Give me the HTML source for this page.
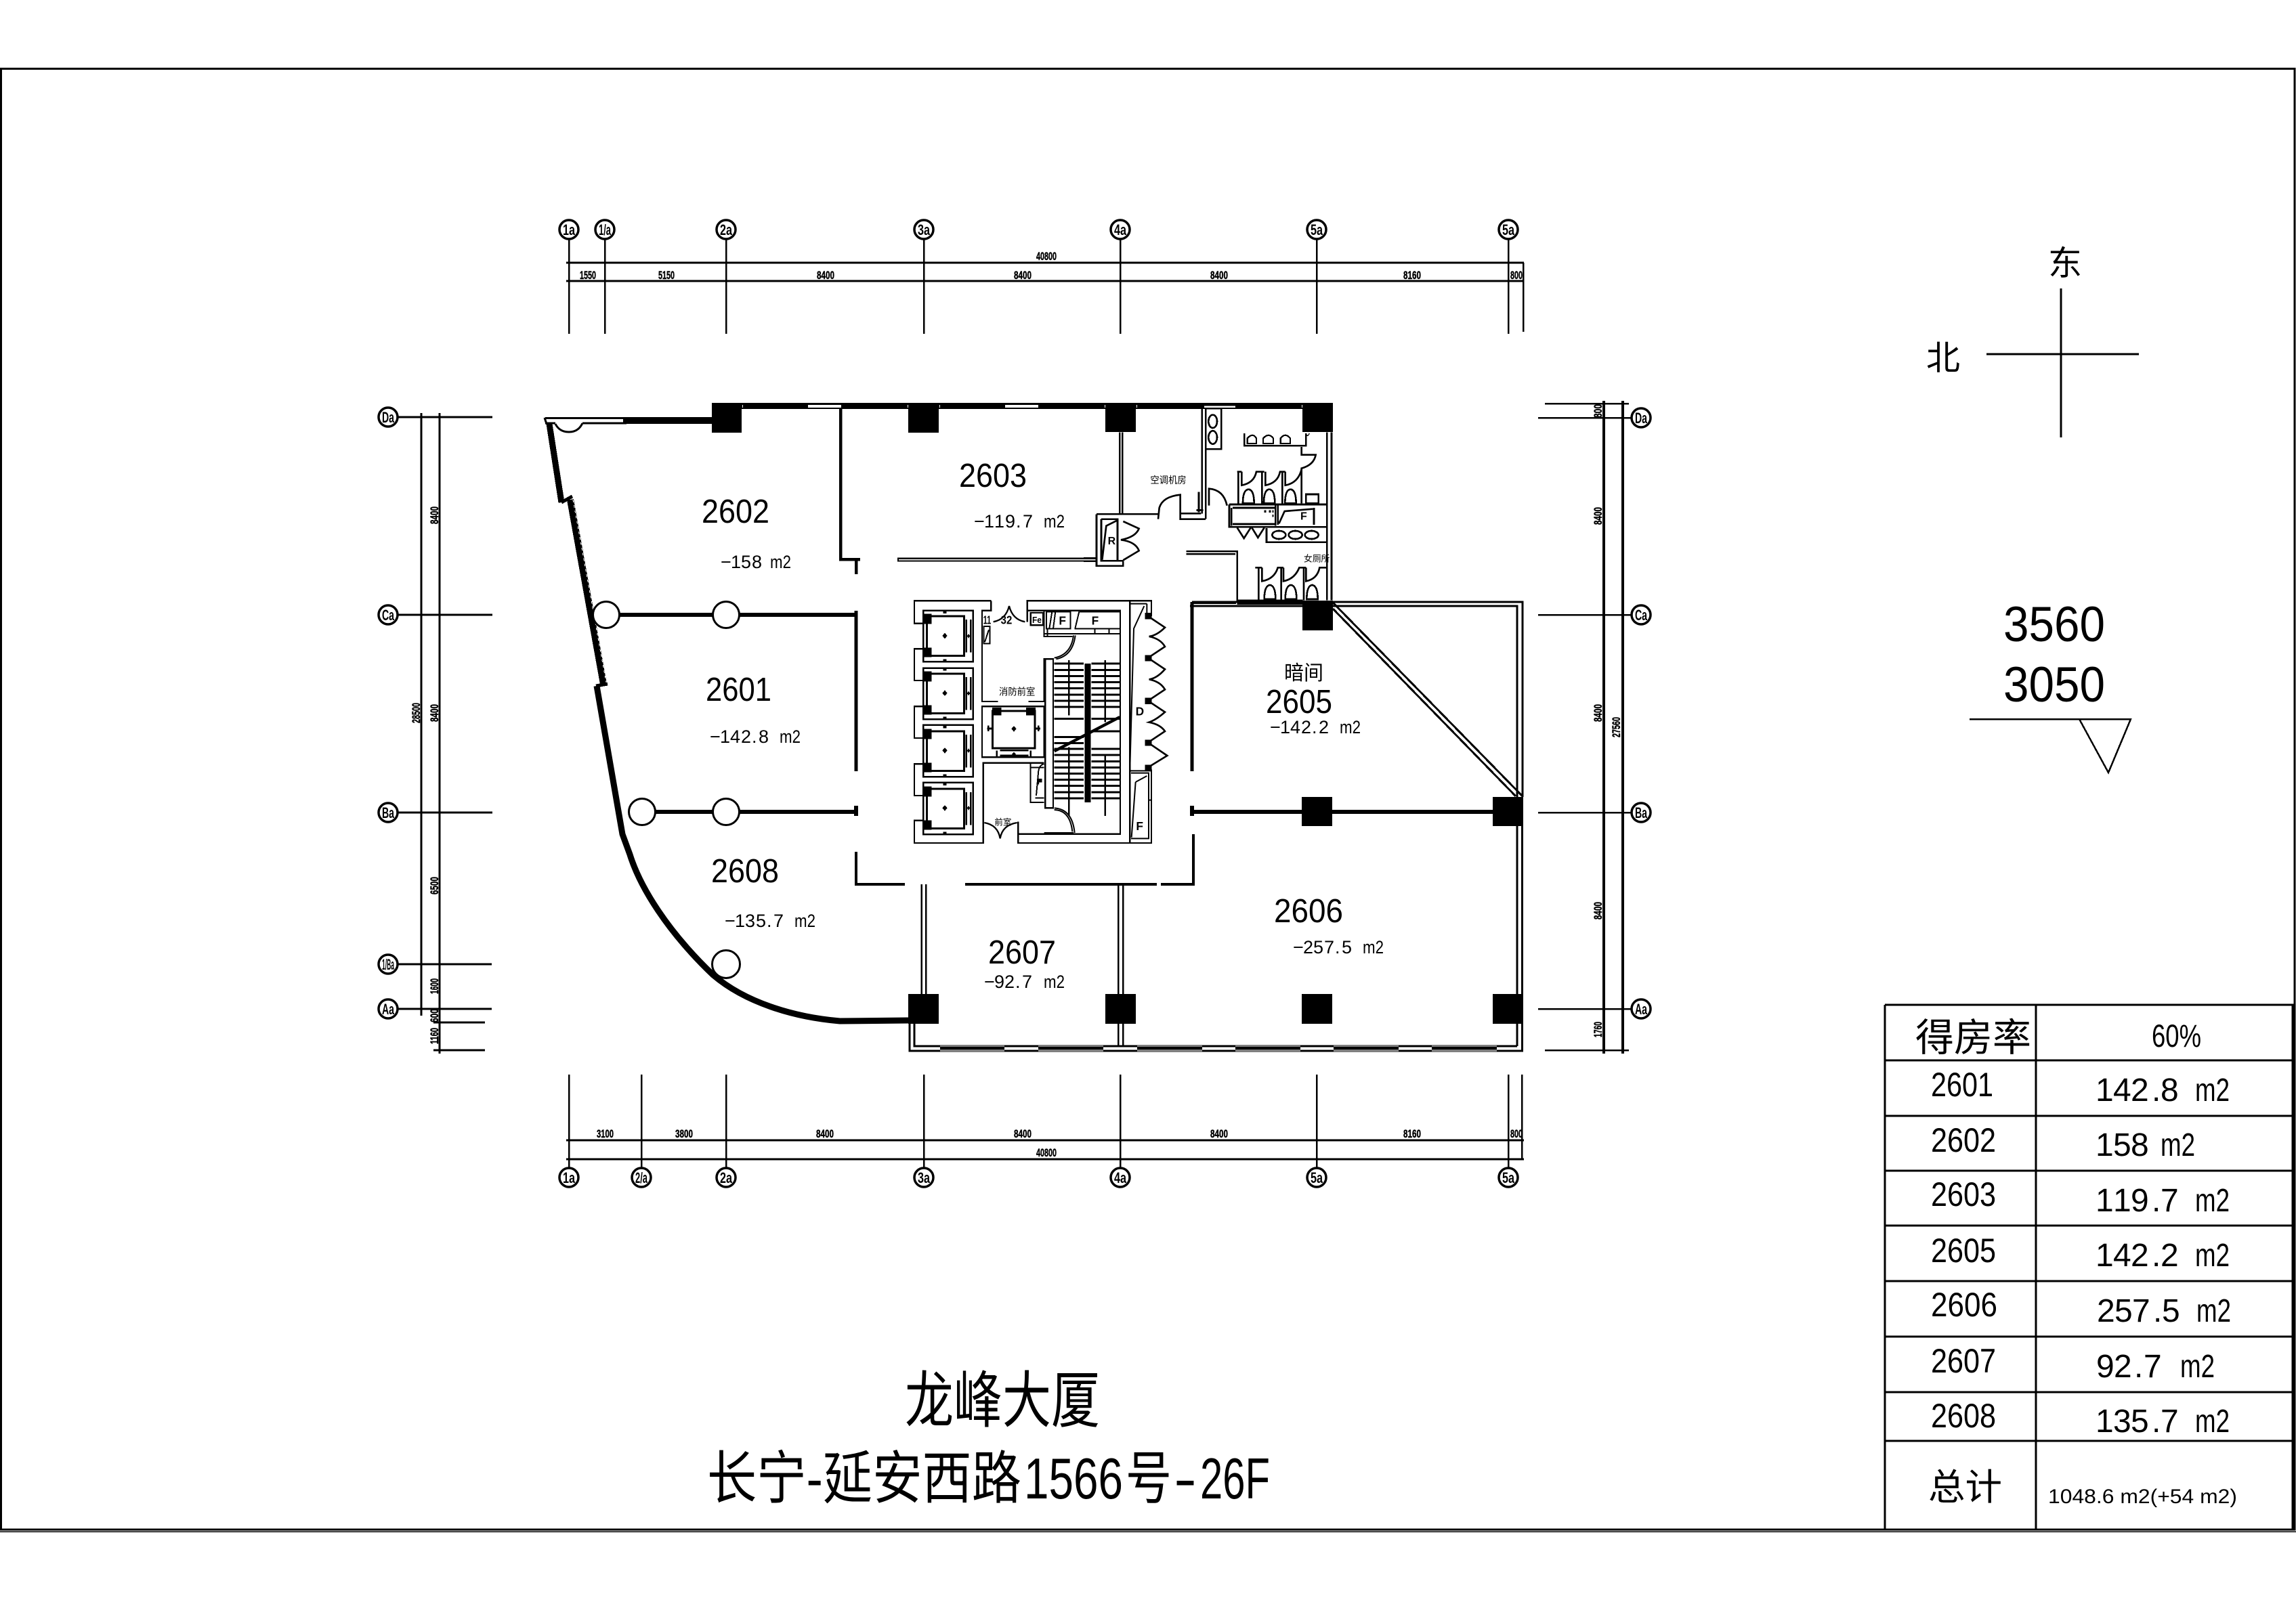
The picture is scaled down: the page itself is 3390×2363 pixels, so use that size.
<!DOCTYPE html>
<html><head><meta charset="utf-8"><title>龙峰大厦</title>
<style>
html,body{margin:0;padding:0;background:#fff;width:3390px;height:2363px;overflow:hidden}
svg{display:block}
text{font-family:"Liberation Sans","Noto Sans CJK SC",sans-serif;fill:#000;stroke:none}
.d{font-size:17px;font-weight:bold;stroke:#000;stroke-width:.5px}
.b{font-size:22px;font-weight:bold}
.r{font-size:49px}
.a{font-size:27px}
.t{font-size:50px}
.v{font-size:48px}
.m{font-weight:bold}
</style></head><body>
<svg width="3390" height="2363" viewBox="0 0 3390 2363" xmlns="http://www.w3.org/2000/svg" fill="none" stroke="#000" shape-rendering="crispEdges">
<rect width="3390" height="2363" fill="#fff" stroke="none"/>
<!-- frame -->
<path d="M1.5,101.5H3388V2259H1.5Z" stroke-width="3"/>
<path d="M0,2262H3390" stroke-width="1.5"/>

<!-- top dims -->
<g stroke-width="3">
<path d="M836,388H2250M836,415H2250"/>
<path d="M840,353V493M893,353V493M1072,353V493M1364,353V493M1654,353V493M1944,353V493M2227,353V493M2249,388V490" stroke-width="2.5"/>
<g stroke-width="3.5" shape-rendering="auto">
<circle cx="840" cy="339" r="14" fill="#fff"/><circle cx="893" cy="339" r="14" fill="#fff"/><circle cx="1072" cy="339" r="14" fill="#fff"/><circle cx="1364" cy="339" r="14" fill="#fff"/><circle cx="1654" cy="339" r="14" fill="#fff"/><circle cx="1944" cy="339" r="14" fill="#fff"/><circle cx="2227" cy="339" r="14" fill="#fff"/>
</g>
</g>
<text class="b" x="831" y="347" textLength="18" lengthAdjust="spacingAndGlyphs">1a</text>
<text class="b" x="884" y="347" textLength="18" lengthAdjust="spacingAndGlyphs">1/a</text>
<text class="b" x="1063" y="347" textLength="18" lengthAdjust="spacingAndGlyphs">2a</text>
<text class="b" x="1355" y="347" textLength="18" lengthAdjust="spacingAndGlyphs">3a</text>
<text class="b" x="1645" y="347" textLength="18" lengthAdjust="spacingAndGlyphs">4a</text>
<text class="b" x="1935" y="347" textLength="18" lengthAdjust="spacingAndGlyphs">5a</text>
<text class="b" x="2218" y="347" textLength="18" lengthAdjust="spacingAndGlyphs">5a</text>
<text class="d" x="856" y="412" textLength="24" lengthAdjust="spacingAndGlyphs">1550</text>
<text class="d" x="972" y="412" textLength="24" lengthAdjust="spacingAndGlyphs">5150</text>
<text class="d" x="1206" y="412" textLength="26" lengthAdjust="spacingAndGlyphs">8400</text>
<text class="d" x="1497" y="412" textLength="26" lengthAdjust="spacingAndGlyphs">8400</text>
<text class="d" x="1787" y="412" textLength="26" lengthAdjust="spacingAndGlyphs">8400</text>
<text class="d" x="2072" y="412" textLength="26" lengthAdjust="spacingAndGlyphs">8160</text>
<text class="d" x="2230" y="412" textLength="18" lengthAdjust="spacingAndGlyphs">800</text>
<text class="d" x="1530" y="384" textLength="30" lengthAdjust="spacingAndGlyphs">40800</text>

<!-- bottom dims -->
<g stroke-width="3">
<path d="M836,1684H2250M836,1712H2250"/>
<path d="M840,1587V1725M947,1587V1725M1072,1587V1725M1364,1587V1725M1654,1587V1725M1944,1587V1725M2227,1587V1725M2247,1587V1712" stroke-width="2.5"/>
<g stroke-width="3.5" shape-rendering="auto">
<circle cx="840" cy="1739" r="14" fill="#fff"/><circle cx="947" cy="1739" r="14" fill="#fff"/><circle cx="1072" cy="1739" r="14" fill="#fff"/><circle cx="1364" cy="1739" r="14" fill="#fff"/><circle cx="1654" cy="1739" r="14" fill="#fff"/><circle cx="1944" cy="1739" r="14" fill="#fff"/><circle cx="2227" cy="1739" r="14" fill="#fff"/>
</g>
</g>
<text class="b" x="831" y="1747" textLength="18" lengthAdjust="spacingAndGlyphs">1a</text>
<text class="b" x="938" y="1747" textLength="18" lengthAdjust="spacingAndGlyphs">2/a</text>
<text class="b" x="1063" y="1747" textLength="18" lengthAdjust="spacingAndGlyphs">2a</text>
<text class="b" x="1355" y="1747" textLength="18" lengthAdjust="spacingAndGlyphs">3a</text>
<text class="b" x="1645" y="1747" textLength="18" lengthAdjust="spacingAndGlyphs">4a</text>
<text class="b" x="1935" y="1747" textLength="18" lengthAdjust="spacingAndGlyphs">5a</text>
<text class="b" x="2218" y="1747" textLength="18" lengthAdjust="spacingAndGlyphs">5a</text>
<text class="d" x="881" y="1680" textLength="25" lengthAdjust="spacingAndGlyphs">3100</text>
<text class="d" x="997" y="1680" textLength="26" lengthAdjust="spacingAndGlyphs">3800</text>
<text class="d" x="1205" y="1680" textLength="26" lengthAdjust="spacingAndGlyphs">8400</text>
<text class="d" x="1497" y="1680" textLength="26" lengthAdjust="spacingAndGlyphs">8400</text>
<text class="d" x="1787" y="1680" textLength="26" lengthAdjust="spacingAndGlyphs">8400</text>
<text class="d" x="2072" y="1680" textLength="26" lengthAdjust="spacingAndGlyphs">8160</text>
<text class="d" x="2230" y="1680" textLength="18" lengthAdjust="spacingAndGlyphs">800</text>
<text class="d" x="1530" y="1708" textLength="30" lengthAdjust="spacingAndGlyphs">40800</text>

<!-- left dims -->
<g stroke-width="3">
<path d="M622,610V1500M649,610V1556"/>
<path d="M587,616H727M587,908H727M587,1200H727M587,1424H726M587,1490H726M640,1510H716M640,1551H716"/>
<g stroke-width="3.5" shape-rendering="auto">
<circle cx="573" cy="616" r="14" fill="#fff"/><circle cx="573" cy="908" r="14" fill="#fff"/><circle cx="573" cy="1200" r="14" fill="#fff"/><circle cx="573" cy="1424" r="14" fill="#fff"/><circle cx="573" cy="1490" r="14" fill="#fff"/>
</g>
</g>
<text class="b" x="564" y="624" textLength="18" lengthAdjust="spacingAndGlyphs">Da</text>
<text class="b" x="564" y="916" textLength="18" lengthAdjust="spacingAndGlyphs">Ca</text>
<text class="b" x="564" y="1208" textLength="18" lengthAdjust="spacingAndGlyphs">Ba</text>
<text class="b" x="564" y="1432" textLength="18" lengthAdjust="spacingAndGlyphs">1/Ba</text>
<text class="b" x="564" y="1498" textLength="18" lengthAdjust="spacingAndGlyphs">Aa</text>
<text class="d" transform="translate(647,774) rotate(-90)" textLength="26" lengthAdjust="spacingAndGlyphs">8400</text>
<text class="d" transform="translate(647,1066) rotate(-90)" textLength="26" lengthAdjust="spacingAndGlyphs">8400</text>
<text class="d" transform="translate(647,1321) rotate(-90)" textLength="26" lengthAdjust="spacingAndGlyphs">6500</text>
<text class="d" transform="translate(647,1468) rotate(-90)" textLength="23" lengthAdjust="spacingAndGlyphs">1600</text>
<text class="d" transform="translate(647,1510) rotate(-90)" textLength="20" lengthAdjust="spacingAndGlyphs">600</text>
<text class="d" transform="translate(647,1542) rotate(-90)" textLength="24" lengthAdjust="spacingAndGlyphs">1160</text>
<text class="d" transform="translate(620,1068) rotate(-90)" textLength="30" lengthAdjust="spacingAndGlyphs">28500</text>

<!-- right dims -->
<g stroke-width="3">
<path d="M2368,592V1556M2396,592V1556" stroke-width="4"/>
<path d="M2281,596H2405M2271,617H2409M2271,908H2409M2271,1200H2409M2271,1490H2409M2281,1551H2405" stroke-width="2.5"/>
<g stroke-width="3.5" shape-rendering="auto">
<circle cx="2423" cy="617" r="14" fill="#fff"/><circle cx="2423" cy="908" r="14" fill="#fff"/><circle cx="2423" cy="1200" r="14" fill="#fff"/><circle cx="2423" cy="1490" r="14" fill="#fff"/>
</g>
</g>
<text class="b" x="2414" y="625" textLength="18" lengthAdjust="spacingAndGlyphs">Da</text>
<text class="b" x="2414" y="916" textLength="18" lengthAdjust="spacingAndGlyphs">Ca</text>
<text class="b" x="2414" y="1208" textLength="18" lengthAdjust="spacingAndGlyphs">Ba</text>
<text class="b" x="2414" y="1498" textLength="18" lengthAdjust="spacingAndGlyphs">Aa</text>
<text class="d" transform="translate(2365,617) rotate(-90)" textLength="20" lengthAdjust="spacingAndGlyphs">800</text>
<text class="d" transform="translate(2365,775) rotate(-90)" textLength="26" lengthAdjust="spacingAndGlyphs">8400</text>
<text class="d" transform="translate(2365,1066) rotate(-90)" textLength="26" lengthAdjust="spacingAndGlyphs">8400</text>
<text class="d" transform="translate(2365,1358) rotate(-90)" textLength="26" lengthAdjust="spacingAndGlyphs">8400</text>
<text class="d" transform="translate(2365,1532) rotate(-90)" textLength="23" lengthAdjust="spacingAndGlyphs">1760</text>
<text class="d" transform="translate(2392,1089) rotate(-90)" textLength="30" lengthAdjust="spacingAndGlyphs">27560</text>

<!-- columns & walls -->
<g fill="#000" stroke="none">
<rect x="1051" y="595" width="917" height="9"/>
<rect x="1051" y="595" width="44" height="44"/><rect x="1341" y="595" width="45" height="44"/><rect x="1632" y="595" width="45" height="43"/><rect x="1923" y="595" width="45" height="43"/>
<rect x="1923" y="887" width="45" height="44"/>
<rect x="1922" y="1177" width="45" height="43"/><rect x="2204" y="1177" width="45" height="43"/>
<rect x="1341" y="1468" width="45" height="44"/><rect x="1632" y="1468" width="45" height="44"/><rect x="1922" y="1468" width="45" height="44"/><rect x="2204" y="1468" width="45" height="44"/>
<rect x="920" y="616" width="131" height="10"/>
</g>
<g fill="#fff" stroke="none">
<rect x="1193" y="598" width="49" height="4"/><rect x="1484" y="598" width="49" height="4"/><rect x="1778" y="598" width="46" height="4"/>
<rect x="1096" y="598" width="1" height="4"/><rect x="1340" y="598" width="1" height="4"/><rect x="1387" y="598" width="1" height="4"/><rect x="1631" y="598" width="1" height="4"/><rect x="1678" y="598" width="1" height="4"/><rect x="1922" y="598" width="1" height="4"/>
</g>
<!-- left facade -->
<path d="M805,617.5H922M805,625H820M860,625H925" stroke-width="3"/>
<path d="M804,617L807,626" stroke-width="3"/>
<path d="M820,626Q826,638 840,638Q854,638 860,625" stroke-width="3" shape-rendering="auto"/>
<path d="M811,626L829,742" stroke-width="9"/>
<path d="M829,742L845,733" stroke-width="5"/>
<path d="M842,738L891,1010" stroke-width="10"/>
<path d="M846,738L895,1008" stroke-width="1" stroke="#fff" stroke-dasharray="4 4"/>
<path d="M880,1013L897,1010" stroke-width="5"/>
<path d="M881,1013L919,1232L930,1262C945,1310 985,1375 1053,1440C1100,1480 1170,1502 1240,1508L1341,1507" stroke-width="9" shape-rendering="auto"/>
<!-- partitions -->
<path d="M1241,604V826H1270M1264,826V848" stroke-width="4.5"/>
<path d="M1325,826.5H1620" stroke-width="6"/><path d="M1327,826.5H1620" stroke-width="1.5" stroke="#fff"/>
<path d="M913,908H1053M1092,908H1264M1200,908" stroke-width="6"/>
<path d="M1264,902V1139" stroke-width="5"/>
<path d="M967,1199H1053M1092,1199H1264" stroke-width="6"/>
<path d="M1264,1190V1205" stroke-width="6"/>
<path d="M1264,1258V1306H1336M1425,1306H1708M1714,1306H1762V1232" stroke-width="4"/>
<path d="M1760,889V1139" stroke-width="5"/>
<path d="M1760,889H1968" stroke-width="3"/><path d="M1757,895H1925" stroke-width="3"/>
<path d="M1760,1190V1205" stroke-width="6"/>
<path d="M1760,1199H1922M1967,1199H2204" stroke-width="6"/>
<g shape-rendering="auto">
<circle cx="895" cy="908" r="19.5" fill="#fff" stroke-width="3"/>
<circle cx="1072" cy="908" r="19.5" fill="#fff" stroke-width="3"/>
<circle cx="948" cy="1199" r="19.5" fill="#fff" stroke-width="3"/>
<circle cx="1072" cy="1199" r="19.5" fill="#fff" stroke-width="3"/>
<circle cx="1072" cy="1424" r="20.5" fill="#fff" stroke-width="3"/>
</g>
<!-- double walls south -->
<path d="M1360.5,1306V1468M1367,1306V1468M1651,1306V1468M1658,1306V1468" stroke-width="2.5"/>
<path d="M1651,1512V1544M1658,1512V1544" stroke-width="2.5"/>
<path d="M1343,1512V1552H2249M1350,1512V1545H2240" stroke-width="2.7"/>
<g fill="#808080" stroke="none">
<rect x="1388" y="1543" width="95" height="10"/><rect x="1533" y="1543" width="96" height="10"/><rect x="1679" y="1543" width="96" height="10"/><rect x="1824" y="1543" width="96" height="10"/><rect x="1969" y="1543" width="96" height="10"/><rect x="2114" y="1543" width="96" height="10"/>
</g>
<g fill="#000" stroke="none">
<rect x="1388" y="1546" width="95" height="4"/><rect x="1533" y="1546" width="96" height="4"/><rect x="1679" y="1546" width="96" height="4"/><rect x="1824" y="1546" width="96" height="4"/><rect x="1969" y="1546" width="96" height="4"/><rect x="2114" y="1546" width="96" height="4"/>
</g>
<!-- east walls -->
<path d="M1968,889H2248V1177M1968,895H2240V1177M2240,1220V1545M2247.5,1220V1552" stroke-width="3"/>
<path d="M1968,890L2248,1176M1968,899L2238,1176" stroke-width="3"/>

<!-- toilets, plant room (zoom coords) -->
<g transform="translate(1600,570) scale(.33333)" stroke-width="8">
<path d="M160,205V568M172,205V568" stroke-width="7"/>
<path d="M57,568H330M78,590H155M57,568V797H175V775M78,590V775H175M150,590V775"/>
<path d="M175,600L245,632Q230,670 165,682Q230,690 245,730L175,772" shape-rendering="auto"/>
<path d="M150,595L100,620L82,770" shape-rendering="auto"/>
<path d="M0,762H57M0,777H57" stroke-width="5"/>
<path d="M330,590L335,540Q350,490 428,482V590H540M432,565H520" shape-rendering="auto"/>
<path d="M524,85V565M541,100V590M530,85H672M541,100H610V280H541"/>
<path d="M510,470V560M500,550H530" stroke-width="9"/>
<path d="M555,530V455Q620,460 635,530" shape-rendering="auto"/>
<ellipse cx="572" cy="157" rx="19" ry="29"/><ellipse cx="572" cy="228" rx="19" ry="29"/>
<path d="M712,210V265H985V210"/>
<path d="M725,255V232Q750,205 765,232V255ZM795,255V232Q820,205 840,232V255ZM872,255V232Q893,205 915,232V255Z" stroke-width="7"/>
<path d="M965,270V305H1028Q1020,350 965,365V520" shape-rendering="auto"/>
<path d="M680,380H700M685,380V525M700,380V440Q755,430 765,380H800M790,380V525M805,380V440Q860,430 870,380H893M880,380V525M893,380V440Q950,430 965,370" shape-rendering="auto"/>
<path d="M705,520Q705,460 730,458Q755,460 755,520ZM798,520Q798,460 822,458Q847,460 847,520ZM892,520Q892,460 916,458Q941,460 941,520Z"/>
<rect x="985" y="480" width="55" height="40"/>
<path d="M645,525H1080M645,525V625H1080M655,540V620M660,540H850M850,530V620M860,530V615M660,612H850M1020,540V615"/>
<path d="M865,610L890,555L1015,545" shape-rendering="auto"/>
<path d="M680,628L710,675L740,628M745,628L772,672L800,628" shape-rendering="auto"/>
<path d="M810,630V692H1075"/>
<ellipse cx="865" cy="660" rx="30" ry="18"/><ellipse cx="938" cy="660" rx="30" ry="18"/><ellipse cx="1010" cy="660" rx="30" ry="18"/>
<path d="M800,556h8M820,556h10M835,556h6M835,575h6" stroke-width="10"/>
<path d="M455,733H680V955M455,745H672" stroke-width="7"/>
<path d="M680,950H970M680,965H970M475,962H675M482,965V1020" stroke-width="7"/>
<path d="M1078,205V950M1098,205V950"/>
<path d="M760,805H790M775,805V950M790,805V865Q845,855 860,805H885M875,805V950M885,805V865Q935,855 955,805H985M975,805V950M985,805V865Q1035,855 1045,805H1075" shape-rendering="auto"/>
<path d="M800,945Q800,885 825,882Q850,885 850,945ZM893,945Q893,885 918,882Q943,885 943,945ZM988,945Q988,885 1012,882Q1037,885 1037,945Z"/>
<path d="M985,210Q990,230 1000,210" stroke-width="4"/>
</g>
<g transform="translate(1600,570) scale(.33333)">
<text x="295" y="432" font-size="42" textLength="160" lengthAdjust="spacingAndGlyphs">空调机房</text>
<text x="975" y="778" font-size="40" textLength="115" lengthAdjust="spacingAndGlyphs">女厕所</text>
<text class="m" x="107" y="702" font-size="48">R</text>
<text class="m" x="960" y="592" font-size="48">F</text>
</g>

<!-- core -->
<g transform="translate(1300,860) scale(.33333)" stroke-width="7">
<path d="M490,82H150V182H190M190,295H150V435H190M190,550H150V690H190M190,805H150V945H190M190,1055H150V1155H455V800H725"/>
<path d="M490,82V125H450V528H520M655,528H725V340H765V1000H730V340"/>
<path d="M650,175V82H1200V150M610,1060V1155H1200V830M1105,82V1155"/>
<path d="M650,125H1062V1115H610"/>
<path d="M500,175Q555,165 570,105Q585,165 640,175" shape-rendering="auto"/>
<path d="M460,1065Q520,1075 530,1135Q540,1075 605,1065" shape-rendering="auto"/>
<rect x="190" y="125" width="220" height="227"/><rect x="190" y="380" width="220" height="227"/><rect x="190" y="632" width="220" height="230"/><rect x="190" y="887" width="220" height="230"/>
<rect x="205" y="150" width="165" height="175" stroke-width="9"/><rect x="205" y="405" width="165" height="175" stroke-width="9"/><rect x="205" y="660" width="165" height="175" stroke-width="9"/><rect x="205" y="915" width="165" height="175" stroke-width="9"/>
<path d="M380,165V310M380,420V565M380,675V820M380,930V1075M400,165V310M400,420V565M400,675V820M400,930V1075" stroke-width="8"/>
<g fill="#000" stroke="none">
<rect x="192" y="140" width="34" height="45"/><rect x="192" y="290" width="34" height="42"/>
<rect x="192" y="395" width="34" height="45"/><rect x="192" y="545" width="34" height="42"/>
<rect x="192" y="650" width="34" height="45"/><rect x="192" y="800" width="34" height="42"/>
<rect x="192" y="905" width="34" height="45"/><rect x="192" y="1055" width="34" height="42"/>
<rect x="495" y="555" width="40" height="35"/><rect x="645" y="555" width="42" height="35"/>
<rect x="905" y="360" width="27" height="615"/>
<path d="M285,224l11,13l-11,13l-11,-13zM285,478l11,13l-11,13l-11,-13zM285,732l11,13l-11,13l-11,-13zM285,987l11,13l-11,13l-11,-13zM591,636l11,13l-11,13l-11,-13z"/>
<path d="M390,228l7,10l-7,10l-7,-10zM390,482l7,10l-7,10l-7,-10zM390,736l7,10l-7,10l-7,-10zM390,990l7,10l-7,10l-7,-10zM591,752l9,9l-9,9l-9,-9z"/>
<rect x="278" y="128" width="15" height="10"/><rect x="278" y="340" width="15" height="10"/><rect x="278" y="382" width="15" height="10"/><rect x="278" y="595" width="15" height="10"/><rect x="278" y="636" width="15" height="10"/><rect x="278" y="850" width="15" height="10"/><rect x="278" y="890" width="15" height="10"/><rect x="278" y="1105" width="15" height="10"/>
</g>
<rect x="450" y="550" width="275" height="225"/>
<rect x="497" y="570" width="187" height="165" stroke-width="9"/>
<path d="M478,635V660M472,648H495M700,635V660M685,648H708M515,745V775M665,745V775M530,745H655M530,768H655" stroke-width="8"/>
<rect x="665" y="135" width="55" height="55"/>
<path d="M735,130H842V205H735ZM760,130L748,205M775,130L765,205M860,205H1062M880,130H1062M880,130L862,205M740,205V240H850M725,125V240H745" stroke-width="6"/>
<path d="M855,235Q845,320 770,335M863,235Q852,325 778,340" shape-rendering="auto" stroke-width="6"/>
<path d="M725,228H1060M950,205V225M1012,205V225" stroke-width="6"/>
<path d="M458,195H485V272H458ZM462,265L480,210" stroke-width="6"/>
<path d="M770,360H900M935,360H1060M770,388H900M935,388H1060M770,415H900M935,415H1060M770,443H900M935,443H1060M770,470H900M935,470H1060M770,498H900M935,498H1060M770,525H900M935,525H1060M770,552H900M935,552H1060M770,605H900M935,605H1060M935,660H1060M770,685H900M770,712H900M770,738H900M935,738H1060M770,765H900M935,765H1060M770,793H900M935,793H1060M770,820H900M935,820H1060M770,848H900M935,848H1060M770,875H900M935,875H1060M770,902H900M935,902H1060M770,930H900M935,930H1060M770,957H900M935,957H1060" stroke-width="9"/>
<path d="M835,345V590M995,345V620M835,730V1035M995,760V1035" stroke-width="7"/>
<path d="M770,748L1060,597" stroke-width="13" shape-rendering="auto"/>
<path d="M770,1000Q850,1005 860,1110M770,1008Q840,1010 850,1105M725,1110H855" shape-rendering="auto" stroke-width="6"/>
<path d="M665,800V975H725M665,820H725M690,945L700,835Q705,808 725,805M685,955H725" stroke-width="6"/>
<path d="M700,880h16" stroke-width="14"/>
<path d="M1108,95H1180M1180,95V145M1168,105L1122,205L1105,820" stroke-width="6" shape-rendering="auto"/>
<path d="M1185,150L1260,200Q1225,235 1190,240Q1240,250 1260,285L1185,335L1260,385Q1225,425 1190,430Q1240,440 1260,475L1185,525L1260,575Q1220,610 1190,620Q1240,630 1260,660L1185,710L1270,768L1185,820" shape-rendering="auto" stroke-width="8"/>
<g fill="#000" stroke="none">
<rect x="1172" y="135" width="30" height="28"/><rect x="1172" y="322" width="30" height="28"/><rect x="1172" y="512" width="30" height="28"/><rect x="1172" y="697" width="30" height="28"/><rect x="1172" y="808" width="30" height="28"/>
</g>
<path d="M1110,845H1188V1135H1110M1105,835H1200M1130,885L1180,858M1130,885L1112,1130M1188,965H1200" stroke-width="6" shape-rendering="auto"/>
<text x="525" y="500" font-size="42" textLength="160" lengthAdjust="spacingAndGlyphs">消防前室</text>
<text x="505" y="1075" font-size="38" textLength="75" lengthAdjust="spacingAndGlyphs">前室</text>
<text class="m" x="455" y="185" font-size="52" textLength="35" lengthAdjust="spacingAndGlyphs">11</text>
<text class="m" x="533" y="185" font-size="52" textLength="50" lengthAdjust="spacingAndGlyphs">32</text>
<text class="m" x="672" y="180" font-size="40" textLength="42" lengthAdjust="spacingAndGlyphs">Fe</text>
<text class="m" x="790" y="188" font-size="52">F</text>
<text class="m" x="935" y="188" font-size="52">F</text>
<text class="m" x="1130" y="590" font-size="52">D</text>
<text class="m" x="1132" y="1098" font-size="52">F</text>
<text class="m" x="695" y="895" font-size="36">F</text>
</g>

<!-- room labels -->
<text class="r" x="1036" y="772" textLength="100" lengthAdjust="spacingAndGlyphs">2602</text>
<text class="a" y="839"><tspan x="1064 1079 1094 1110">−158</tspan> <tspan x="1137" textLength="31" lengthAdjust="spacingAndGlyphs">m2</tspan></text>
<text class="r" x="1416" y="719" textLength="100" lengthAdjust="spacingAndGlyphs">2603</text>
<text class="a" y="779"><tspan x="1438 1453 1468 1484 1500 1510">−119.7</tspan> <tspan x="1541" textLength="31" lengthAdjust="spacingAndGlyphs">m2</tspan></text>
<text class="r" x="1042" y="1035" textLength="97" lengthAdjust="spacingAndGlyphs">2601</text>
<text class="a" y="1097"><tspan x="1048 1063 1078 1094 1110 1120">−142.8</tspan> <tspan x="1151" textLength="31" lengthAdjust="spacingAndGlyphs">m2</tspan></text>
<text x="1896" y="1004" font-size="30" textLength="58" lengthAdjust="spacingAndGlyphs">暗间</text>
<text class="r" x="1869" y="1053" textLength="98" lengthAdjust="spacingAndGlyphs">2605</text>
<text class="a" y="1083"><tspan x="1875 1890 1905 1921 1937 1947">−142.2</tspan> <tspan x="1978" textLength="31" lengthAdjust="spacingAndGlyphs">m2</tspan></text>
<text class="r" x="1050" y="1303" textLength="100" lengthAdjust="spacingAndGlyphs">2608</text>
<text class="a" y="1369"><tspan x="1070 1085 1100 1116 1132 1142">−135.7</tspan> <tspan x="1173" textLength="31" lengthAdjust="spacingAndGlyphs">m2</tspan></text>
<text class="r" x="1459" y="1423" textLength="100" lengthAdjust="spacingAndGlyphs">2607</text>
<text class="a" y="1459"><tspan x="1453 1468 1483 1499 1509">−92.7</tspan> <tspan x="1541" textLength="31" lengthAdjust="spacingAndGlyphs">m2</tspan></text>
<text class="r" x="1881" y="1362" textLength="102" lengthAdjust="spacingAndGlyphs">2606</text>
<text class="a" y="1408"><tspan x="1909 1924 1939 1955 1971 1981">−257.5</tspan> <tspan x="2012" textLength="31" lengthAdjust="spacingAndGlyphs">m2</tspan></text>

<!-- north mark -->
<path d="M3043,426V646M2933,523H3158" stroke-width="3"/>
<text x="3024" y="406" font-size="50">东</text>
<text x="2844" y="546" font-size="50">北</text>
<text x="2958" y="947" font-size="73" textLength="150" lengthAdjust="spacingAndGlyphs">3560</text>
<text x="2958" y="1036" font-size="73" textLength="150" lengthAdjust="spacingAndGlyphs">3050</text>
<path d="M2908,1062H3146L3113,1141L3070,1062" stroke-width="2.5"/>

<!-- title -->
<text x="1336" y="2100" font-size="91" textLength="288" lengthAdjust="spacingAndGlyphs">龙峰大厦</text>
<text y="2213" font-size="85"><tspan x="1044" textLength="464" lengthAdjust="spacingAndGlyphs">长宁-延安西路</tspan><tspan x="1512" textLength="146" lengthAdjust="spacingAndGlyphs">1566</tspan><tspan x="1662" textLength="68" lengthAdjust="spacingAndGlyphs">号</tspan><tspan x="1733" textLength="34" lengthAdjust="spacingAndGlyphs">-</tspan><tspan x="1772" textLength="103" lengthAdjust="spacingAndGlyphs">26F</tspan></text>

<!-- table -->
<path d="M2783,1484H3385V2258M2783,1484V2258M3006,1484V2258M2783,1566H3385M2783,1648H3385M2783,1729H3385M2783,1810H3385M2783,1892H3385M2783,1974H3385M2783,2056H3385M2783,2128H3385" stroke-width="3"/>
<text x="2828" y="1552" font-size="57">得房率</text>
<text x="3177" y="1546" font-size="47" textLength="73" lengthAdjust="spacingAndGlyphs">60%</text>
<text class="t" x="2851" y="1619" textLength="92" lengthAdjust="spacingAndGlyphs">2601</text>
<text class="t" x="2851" y="1701" textLength="96" lengthAdjust="spacingAndGlyphs">2602</text>
<text class="t" x="2851" y="1781" textLength="96" lengthAdjust="spacingAndGlyphs">2603</text>
<text class="t" x="2851" y="1864" textLength="96" lengthAdjust="spacingAndGlyphs">2605</text>
<text class="t" x="2851" y="1944" textLength="98" lengthAdjust="spacingAndGlyphs">2606</text>
<text class="t" x="2851" y="2027" textLength="96" lengthAdjust="spacingAndGlyphs">2607</text>
<text class="t" x="2851" y="2108" textLength="96" lengthAdjust="spacingAndGlyphs">2608</text>
<text class="v" y="1626"><tspan x="3094 3120 3146 3177 3190">142.8</tspan> <tspan x="3241" textLength="51" lengthAdjust="spacingAndGlyphs">m2</tspan></text>
<text class="v" y="1707"><tspan x="3094 3120 3146">158</tspan> <tspan x="3190" textLength="51" lengthAdjust="spacingAndGlyphs">m2</tspan></text>
<text class="v" y="1789"><tspan x="3094 3120 3146 3177 3190">119.7</tspan> <tspan x="3241" textLength="51" lengthAdjust="spacingAndGlyphs">m2</tspan></text>
<text class="v" y="1870"><tspan x="3094 3120 3146 3177 3190">142.2</tspan> <tspan x="3241" textLength="51" lengthAdjust="spacingAndGlyphs">m2</tspan></text>
<text class="v" y="1952"><tspan x="3096 3122 3148 3179 3192">257.5</tspan> <tspan x="3243" textLength="51" lengthAdjust="spacingAndGlyphs">m2</tspan></text>
<text class="v" y="2034"><tspan x="3095 3121 3151 3165">92.7</tspan> <tspan x="3219" textLength="51" lengthAdjust="spacingAndGlyphs">m2</tspan></text>
<text class="v" y="2115"><tspan x="3094 3120 3146 3177 3190">135.7</tspan> <tspan x="3241" textLength="51" lengthAdjust="spacingAndGlyphs">m2</tspan></text>
<text x="2847" y="2215" font-size="54" textLength="109" lengthAdjust="spacingAndGlyphs">总计</text>
<text x="3024" y="2220" font-size="30" textLength="279" lengthAdjust="spacingAndGlyphs">1048.6 m2(+54 m2)</text>
</svg>
</body></html>
